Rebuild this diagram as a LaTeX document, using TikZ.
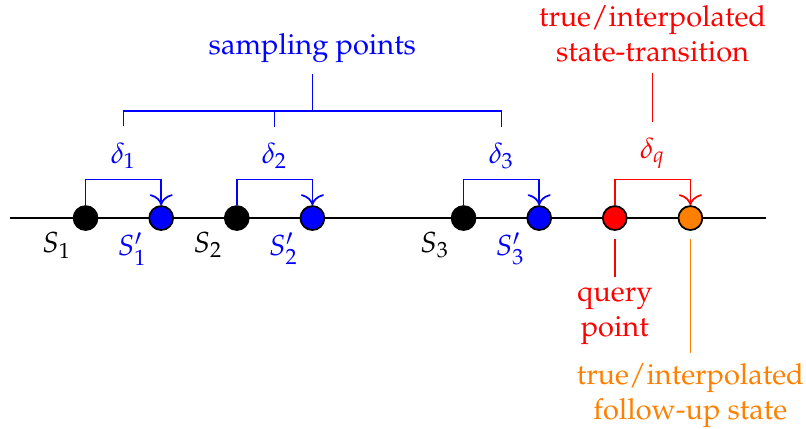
\documentclass[tikz,border=0pt]{standalone}
\usepackage[T1]{fontenc}
\usepackage{mathpazo}
\usetikzlibrary{arrows.meta,positioning}

\begin{document}
\begin{tikzpicture}[
x=0.916cm, y=0.916cm,
node distance=0.916cm,
semithick,
state/.style={circle, draw, inner sep=0pt, minimum size=0.29cm, on grid},
lbl/.style={anchor=north east, inner sep=1.5pt},
note/.style={align=center, inner sep=3.5pt},
arrow/.style={-{To[scale=1.3]}}
]
\useasboundingbox (-0.132,-2.778) rectangle (10.529,2.884);

% time axis
\coordinate (axl) at (0,0);
\coordinate (axr) at (10,0);
\draw (axl) -- (axr);

\node[state, fill=black] (s1) at (1,0) {};
\node[state, fill=blue, right=of s1] (s1p) {};
\node[state, fill=black, right=of s1p] (s2) {};
\node[state, fill=blue, right=of s2] (s2p) {};
\node[state, fill=black, right=1.832cm of s2p] (s3) {};
\node[state, fill=blue, right=of s3] (s3p) {};
\node[state, fill=red, right=of s3p] (q) {};
\node[state, fill=orange, right=of q] (f) {};

\node[lbl] (l1) at (s1.south west) {$S_1$};
\node[lbl, blue] (l1p) at (s1p.south west) {$S'_1$};
\node[lbl] (l2) at (s2.south west) {$S_2$};
\node[lbl, blue] (l2p) at (s2p.south west) {$S'_2$};
\node[lbl] (l3) at (s3.south west) {$S_3$};
\node[lbl, blue] (l3p) at (s3p.south west) {$S'_3$};

% transitions
\draw[blue, arrow] (s1.north) -- ++(0,0.34) -| node[above, pos=0.25] (d1) {$\delta_1$} (s1p.north);
\draw[blue, arrow] (s2.north) -- ++(0,0.34) -| node[above, pos=0.25] (d2) {$\delta_2$} (s2p.north);
\draw[blue, arrow] (s3.north) -- ++(0,0.34) -| node[above, pos=0.25] (d3) {$\delta_3$} (s3p.north);
\draw[red, arrow] (q.north) -- ++(0,0.34) -| node[above, pos=0.25] (dq) {$\delta_q$} (f.north);

% sampling points
\draw[blue, shorten <=2pt, shorten >=2pt] (d1.north) -- ++(0,0.28) -| coordinate[pos=0.25] (bm) (d3.north);
\draw[blue, shorten <=2pt] (d2.north) -- ++(0,0.28);
\node[note, blue, above=0.45cm of bm] (sp) {sampling points};
\draw[blue] (bm) -- (sp);

% notes
\node[note, red, above=0.656cm of dq] (tr) {true/interpolated\\state-transition};
\draw[red, shorten <=2pt] (dq) -- (tr);

\node[note, red, below=0.557cm of q] (qp) {query\\point};
\draw[red, shorten <=2.8pt] (q) -- (qp);

\node[note, orange, below=1.478cm of f] (fu) {true/interpolated\\follow-up state};
\draw[orange, shorten <=2.8pt] (f) -- (fu);

\end{tikzpicture}
\end{document}
